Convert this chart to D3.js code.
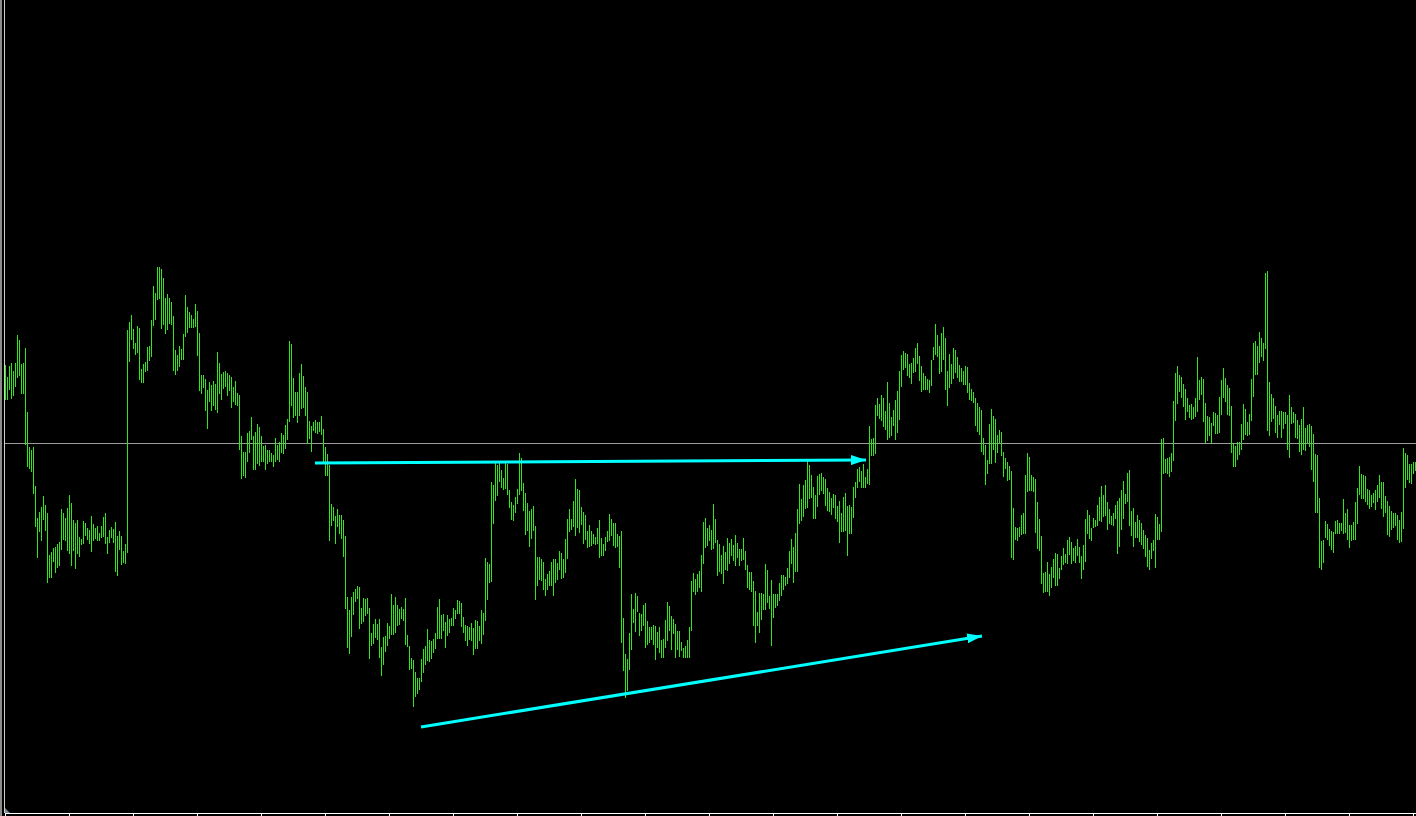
<!DOCTYPE html>
<html>
<head>
<meta charset="utf-8">
<script src="https://cdn.jsdelivr.net/npm/d3@7"></script>
<style>
  html, body { margin: 0; padding: 0; background: #000; overflow: hidden; }
  svg { display: block; }
</style>
</head>
<body>
<div id="chart"></div>
<script>
// bar highs / lows, oldest bar first
const highs = [
1.1635,1.1623,1.1634,1.1637,1.1629,1.1637,1.1665,1.1660,1.1636,1.1637,
1.1652,1.1588,1.1553,1.1550,1.1553,1.1514,1.1482,1.1488,1.1493,1.1504,
1.1495,1.1487,1.1445,1.1448,1.1452,1.1453,1.1456,1.1458,1.1491,1.1487,
1.1482,1.1492,1.1505,1.1497,1.1480,1.1477,1.1480,1.1463,1.1461,1.1479,
1.1477,1.1472,1.1470,1.1484,1.1476,1.1472,1.1474,1.1467,1.1474,1.1483,
1.1487,1.1463,1.1470,1.1473,1.1471,1.1478,1.1464,1.1469,1.1464,1.1449,
1.1456,
1.1670,1.1678,1.1685,1.1671,1.1657,1.1674,1.1672,1.1631,1.1636,1.1638,
1.1653,1.1654,1.1680,1.1714,1.1707,1.1733,1.1733,1.1731,1.1722,1.1702,
1.1706,1.1702,1.1698,1.1684,1.1650,1.1645,1.1654,1.1651,1.1666,1.1705,
1.1693,1.1688,1.1685,1.1681,1.1696,1.1689,1.1667,1.1625,1.1625,1.1621,
1.1610,1.1618,1.1615,1.1619,1.1616,1.1648,1.1637,1.1626,1.1628,1.1629,
1.1627,1.1625,1.1623,1.1613,1.1619,1.1607,1.1605,1.1564,1.1548,1.1548,
1.1567,1.1569,1.1583,1.1564,1.1568,1.1576,1.1573,1.1564,1.1554,1.1555,
1.1550,1.1550,1.1547,1.1545,1.1562,1.1555,1.1558,1.1567,1.1565,1.1575,
1.1581,1.1659,1.1656,1.1622,1.1608,1.1608,1.1627,1.1636,1.1624,1.1613,
1.1608,1.1579,1.1574,1.1578,1.1580,1.1578,1.1578,1.1584,
1.1571,1.1553,1.1546,1.1535,1.1496,1.1493,1.1484,1.1491,1.1485,1.1485,
1.1480,1.1464,1.1403,1.1390,1.1403,1.1408,1.1411,1.1414,1.1413,1.1392,
1.1402,1.1401,1.1402,1.1392,1.1367,1.1376,1.1381,1.1376,1.1381,1.1353,
1.1363,1.1364,1.1377,1.1374,1.1406,1.1395,1.1403,1.1395,1.1391,1.1393,
1.1391,1.1402,1.1365,1.1354,1.1342,1.1340,1.1328,1.1322,1.1322,1.1341,
1.1351,1.1354,1.1371,1.1360,1.1359,1.1361,1.1367,1.1393,1.1401,1.1385,
1.1386,1.1378,1.1385,1.1381,1.1382,1.1392,1.1390,1.1400,1.1399,1.1397,
1.1383,1.1375,1.1374,1.1373,1.1377,1.1372,1.1380,1.1379,1.1374,1.1390,
1.1387,
1.1442,1.1438,1.1436,1.1518,1.1515,1.1539,1.1535,1.1538,1.1530,1.1522,
1.1537,1.1536,1.1510,1.1498,1.1495,1.1503,1.1511,1.1547,1.1542,1.1517,
1.1507,1.1497,1.1489,1.1491,1.1494,1.1474,1.1443,1.1443,1.1441,1.1438,
1.1421,1.1426,1.1429,1.1438,1.1441,1.1441,1.1437,1.1449,1.1447,1.1441,
1.1461,1.1481,1.1491,1.1481,1.1499,1.1521,1.1511,1.1510,1.1493,1.1488,
1.1485,1.1469,1.1475,1.1469,1.1466,1.1463,1.1472,1.1480,
1.1462,1.1456,1.1463,1.1469,1.1486,1.1481,1.1477,1.1477,1.1466,1.1464,
1.1469,1.1382,1.1346,1.1341,1.1367,1.1406,1.1391,1.1407,1.1404,1.1387,
1.1386,1.1395,1.1397,1.1379,1.1373,1.1373,1.1375,1.1374,1.1368,1.1373,
1.1360,1.1361,1.1380,1.1398,1.1394,1.1384,1.1381,1.1376,1.1369,1.1369,
1.1358,1.1352,1.1354,1.1360,1.1373,1.1419,1.1427,1.1421,1.1426,1.1429,
1.1445,1.1478,1.1482,1.1472,1.1475,1.1470,1.1496,1.1481,1.1460,1.1456,
1.1445,1.1454,1.1448,1.1462,1.1457,1.1461,1.1455,1.1465,1.1457,1.1451,
1.1451,1.1462,1.1449,1.1435,1.1428,1.1428,1.1419,1.1409,1.1388,1.1407,
1.1407,1.1406,1.1436,1.1430,1.1404,1.1420,1.1406,1.1406,1.1406,1.1417,
1.1425,1.1425,1.1423,1.1432,
1.1449,1.1461,1.1453,1.1467,1.1491,1.1516,1.1501,1.1515,1.1520,1.1541,
1.1535,1.1525,1.1513,1.1505,1.1524,1.1526,1.1527,1.1523,1.1521,1.1512,
1.1508,1.1502,1.1506,1.1505,1.1494,1.1499,1.1487,1.1503,1.1507,1.1494,
1.1495,1.1493,1.1513,1.1518,1.1531,1.1533,1.1529,1.1536,1.1523,1.1531,
1.1574,1.1561,1.1562,1.1595,1.1602,1.1596,1.1605,1.1602,1.1589,1.1618,
1.1597,1.1583,1.1590,1.1600,1.1609,1.1629,1.1645,1.1649,1.1647,1.1646,
1.1636,1.1637,1.1642,1.1652,1.1657,1.1644,1.1634,1.1627,1.1624,1.1621,
1.1620,1.1640,1.1653,1.1676,1.1665,1.1654,1.1667,1.1673,1.1662,1.1629,
1.1646,1.1636,1.1652,1.1650,1.1643,1.1635,1.1632,1.1629,1.1634,1.1633,
1.1617,1.1611,1.1608,1.1602,1.1597,1.1593,1.1590,1.1562,1.1555,1.1540,
1.1576,1.1591,1.1584,1.1581,1.1565,1.1570,
1.1568,1.1548,1.1542,1.1538,1.1534,1.1529,1.1492,1.1473,1.1472,1.1473,
1.1485,1.1487,1.1525,1.1547,1.1543,1.1525,1.1523,1.1521,1.1498,1.1481,
1.1464,1.1427,1.1428,1.1438,1.1426,1.1433,1.1441,1.1447,1.1446,1.1432,
1.1444,1.1452,1.1446,1.1460,1.1463,1.1458,1.1452,1.1454,1.1461,1.1453,
1.1444,1.1455,1.1481,1.1490,1.1485,1.1472,1.1482,1.1480,1.1495,1.1503,
1.1514,1.1505,
1.1515,1.1498,1.1491,1.1484,1.1487,1.1495,1.1499,1.1502,1.1510,1.1519,
1.1506,1.1527,1.1530,1.1489,1.1492,1.1478,1.1485,1.1480,1.1477,1.1470,
1.1465,1.1462,1.1450,
1.1457,1.1460,1.1486,1.1483,1.1476,1.1561,1.1562,1.1541,1.1542,1.1543,
1.1547,1.1599,1.1627,1.1634,1.1625,1.1623,1.1616,1.1611,1.1602,1.1595,
1.1596,1.1593,1.1602,1.1643,1.1620,1.1623,1.1621,1.1597,1.1584,1.1583,
1.1577,1.1588,1.1587,1.1585,1.1603,1.1620,1.1632,1.1622,1.1615,1.1612,
1.1594,1.1557,1.1554,1.1558,1.1558,1.1576,1.1596,1.1591,1.1578,1.1586,
1.1621,1.1657,1.1659,1.1654,1.1668,1.1662,1.1657,1.1727,1.1729,1.1618,
1.1606,1.1602,1.1594,1.1585,1.1589,1.1589,1.1588,1.1588,1.1585,1.1605,
1.1593,1.1588,1.1586,1.1580,1.1575,1.1581,1.1593,1.1572,1.1575,1.1576,
1.1574,1.1566,1.1546,1.1545,1.1502,1.1459,1.1460,1.1479,1.1476,1.1471,
1.1469,1.1468,1.1479,1.1480,1.1477,1.1477,1.1501,1.1487,1.1491,1.1475,
1.1475,1.1478,1.1498,1.1512,1.1534,1.1526,1.1525,1.1524,1.1511,1.1510,
1.1505,1.1507,1.1510,1.1515,1.1525,1.1518,1.1518,1.1504,1.1499,1.1494,
1.1489,1.1487,1.1487,1.1485,1.1480,1.1488,1.1552,1.1547,1.1545,1.1536,
1.1536,1.1538,1.1538
];

const lows = [
1.1601,1.1601,1.1611,1.1602,1.1605,1.1614,1.1623,1.1625,1.1607,1.1607,
1.1556,1.1534,1.1532,1.1529,1.1507,1.1474,1.1443,1.1469,1.1460,1.1481,
1.1470,1.1418,1.1423,1.1423,1.1439,1.1428,1.1433,1.1435,1.1451,1.1461,
1.1460,1.1450,1.1447,1.1435,1.1450,1.1432,1.1447,1.1444,1.1456,1.1457,
1.1465,1.1461,1.1457,1.1449,1.1460,1.1462,1.1460,1.1460,1.1463,1.1464,
1.1457,1.1447,1.1458,1.1463,1.1458,1.1429,1.1425,1.1451,1.1436,1.1438,
1.1437,
1.1448,1.1639,1.1661,1.1652,1.1646,1.1648,1.1621,1.1618,1.1618,1.1629,
1.1630,1.1640,1.1644,1.1675,1.1681,1.1701,1.1702,1.1672,1.1676,1.1667,
1.1671,1.1677,1.1676,1.1630,1.1626,1.1630,1.1634,1.1641,1.1641,1.1664,
1.1668,1.1673,1.1673,1.1673,1.1674,1.1645,1.1610,1.1607,1.1613,1.1590,
1.1572,1.1599,1.1590,1.1595,1.1591,1.1588,1.1607,1.1601,1.1612,1.1614,
1.1605,1.1610,1.1593,1.1599,1.1596,1.1595,1.1551,1.1522,1.1525,1.1523,
1.1539,1.1548,1.1561,1.1531,1.1531,1.1537,1.1535,1.1539,1.1539,1.1531,
1.1537,1.1539,1.1539,1.1534,1.1539,1.1541,1.1539,1.1548,1.1547,1.1552,
1.1561,1.1579,1.1595,1.1583,1.1585,1.1578,1.1585,1.1592,1.1593,1.1585,
1.1557,1.1562,1.1549,1.1570,1.1568,1.1567,1.1569,1.1566,
1.1537,1.1525,1.1525,1.1460,1.1475,1.1480,1.1457,1.1474,1.1467,1.1462,
1.1444,1.1392,1.1353,1.1347,1.1364,1.1386,1.1399,1.1402,1.1372,1.1377,
1.1379,1.1385,1.1387,1.1342,1.1355,1.1357,1.1363,1.1361,1.1343,1.1325,
1.1336,1.1349,1.1355,1.1362,1.1366,1.1366,1.1368,1.1375,1.1376,1.1382,
1.1380,1.1356,1.1354,1.1331,1.1332,1.1294,1.1304,1.1307,1.1311,1.1319,
1.1328,1.1336,1.1340,1.1339,1.1342,1.1348,1.1352,1.1362,1.1362,1.1362,
1.1370,1.1353,1.1365,1.1368,1.1375,1.1375,1.1382,1.1387,1.1387,1.1374,
1.1368,1.1360,1.1355,1.1361,1.1360,1.1346,1.1352,1.1352,1.1360,1.1357,
1.1366,
1.1380,1.1401,1.1418,1.1419,1.1477,1.1500,1.1505,1.1519,1.1513,1.1511,
1.1512,1.1506,1.1493,1.1481,1.1480,1.1488,1.1497,1.1506,1.1510,1.1490,
1.1466,1.1470,1.1454,1.1462,1.1470,1.1401,1.1415,1.1421,1.1420,1.1411,
1.1405,1.1411,1.1415,1.1415,1.1405,1.1418,1.1421,1.1431,1.1422,1.1423,
1.1428,1.1442,1.1469,1.1471,1.1474,1.1465,1.1473,1.1468,1.1476,1.1457,
1.1461,1.1453,1.1454,1.1455,1.1457,1.1456,1.1457,1.1443,
1.1445,1.1445,1.1450,1.1459,1.1460,1.1465,1.1455,1.1453,1.1454,1.1433,
1.1358,1.1330,1.1303,1.1310,1.1331,1.1351,1.1378,1.1369,1.1389,1.1365,
1.1370,1.1375,1.1353,1.1356,1.1358,1.1361,1.1356,1.1341,1.1353,1.1348,
1.1343,1.1343,1.1353,1.1360,1.1370,1.1351,1.1367,1.1343,1.1351,1.1344,
1.1350,1.1343,1.1343,1.1343,1.1343,1.1370,1.1409,1.1406,1.1409,1.1413,
1.1409,1.1437,1.1453,1.1455,1.1460,1.1451,1.1452,1.1458,1.1425,1.1429,
1.1427,1.1417,1.1431,1.1430,1.1437,1.1445,1.1440,1.1435,1.1443,1.1435,
1.1440,1.1441,1.1431,1.1413,1.1411,1.1409,1.1375,1.1358,1.1375,1.1368,
1.1381,1.1391,1.1391,1.1398,1.1392,1.1355,1.1383,1.1393,1.1395,1.1400,
1.1405,1.1411,1.1415,1.1417,
1.1423,1.1437,1.1418,1.1429,1.1429,1.1477,1.1480,1.1484,1.1492,1.1493,
1.1502,1.1503,1.1482,1.1482,1.1494,1.1506,1.1510,1.1507,1.1495,1.1490,
1.1489,1.1486,1.1493,1.1482,1.1479,1.1458,1.1469,1.1469,1.1470,1.1445,
1.1467,1.1467,1.1483,1.1503,1.1513,1.1519,1.1513,1.1513,1.1513,1.1517,
1.1516,1.1545,1.1545,1.1547,1.1585,1.1582,1.1580,1.1574,1.1571,1.1561,
1.1563,1.1565,1.1575,1.1561,1.1568,1.1581,1.1614,1.1631,1.1633,1.1625,
1.1623,1.1617,1.1628,1.1629,1.1637,1.1620,1.1609,1.1611,1.1611,1.1611,
1.1608,1.1615,1.1641,1.1646,1.1644,1.1627,1.1629,1.1641,1.1611,1.1595,
1.1613,1.1617,1.1622,1.1628,1.1623,1.1619,1.1619,1.1616,1.1616,1.1608,
1.1601,1.1600,1.1598,1.1575,1.1569,1.1566,1.1549,1.1546,1.1516,1.1527,
1.1537,1.1537,1.1551,1.1538,1.1548,1.1557,
1.1545,1.1524,1.1532,1.1520,1.1521,1.1443,1.1441,1.1461,1.1460,1.1464,
1.1466,1.1467,1.1467,1.1509,1.1510,1.1510,1.1509,1.1468,1.1452,1.1450,
1.1417,1.1408,1.1409,1.1409,1.1405,1.1413,1.1423,1.1415,1.1415,1.1422,
1.1431,1.1436,1.1438,1.1437,1.1446,1.1437,1.1440,1.1438,1.1445,1.1438,
1.1422,1.1431,1.1439,1.1467,1.1462,1.1460,1.1473,1.1474,1.1475,1.1480,
1.1479,1.1484,
1.1485,1.1471,1.1477,1.1476,1.1475,1.1482,1.1447,1.1454,1.1471,1.1482,
1.1497,1.1499,1.1475,1.1465,1.1454,1.1463,1.1463,1.1459,1.1456,1.1452,
1.1444,1.1434,1.1431,
1.1442,1.1450,1.1433,1.1461,1.1461,1.1469,1.1527,1.1528,1.1527,1.1524,
1.1529,1.1540,1.1580,1.1597,1.1609,1.1603,1.1594,1.1581,1.1589,1.1583,
1.1581,1.1582,1.1584,1.1589,1.1601,1.1606,1.1579,1.1558,1.1560,1.1565,
1.1557,1.1575,1.1567,1.1567,1.1568,1.1586,1.1603,1.1599,1.1586,1.1585,
1.1548,1.1534,1.1534,1.1541,1.1546,1.1551,1.1561,1.1566,1.1565,1.1566,
1.1580,1.1604,1.1626,1.1626,1.1638,1.1644,1.1640,1.1652,1.1570,1.1565,
1.1579,1.1582,1.1568,1.1563,1.1576,1.1563,1.1572,1.1577,1.1551,1.1543,
1.1577,1.1578,1.1563,1.1562,1.1549,1.1546,1.1551,1.1550,1.1558,1.1554,
1.1531,1.1519,1.1488,1.1488,1.1433,1.1431,1.1438,1.1463,1.1461,1.1455,
1.1451,1.1448,1.1467,1.1467,1.1467,1.1470,1.1467,1.1468,1.1461,1.1453,
1.1460,1.1461,1.1461,1.1477,1.1506,1.1502,1.1502,1.1499,1.1496,1.1492,
1.1494,1.1498,1.1491,1.1499,1.1503,1.1492,1.1484,1.1488,1.1466,1.1464,
1.1471,1.1473,1.1475,1.1461,1.1458,1.1459,1.1472,1.1513,1.1521,1.1518,
1.1517,1.1527,1.1530
];

// horizontal level and the two drawn arrows: [bar index, price]
const levelPrice = 1.1557;
const arrowLines = [
  { from: [155, 1.1537], to: [430.5, 1.1540] },
  { from: [208, 1.1273], to: [488.5, 1.1364] }
];
const priceDomain = [1.1190, 1.2000];
const barSlots = 706;      // visible bar slots on screen
const tickStep = 32;       // bars between time-scale ticks

const width = 1416, height = 816;
const axisY = 813;

const bars = highs.map((h, i) => ({ index: i, high: h, low: lows[i] }));

const xScale = d3.scaleLinear().domain([0, barSlots - 1]).range([5, 1415]);
const yScale = d3.scaleLinear().domain(priceDomain).range([810, 0]);

const svg = d3.select("#chart")
  .append("svg")
  .attr("width", width)
  .attr("height", height)
  .style("background", "#000");

svg.append("defs")
  .append("marker")
  .attr("id", "arrowHead")
  .attr("markerUnits", "userSpaceOnUse")
  .attr("markerWidth", 16)
  .attr("markerHeight", 10)
  .attr("refX", 15)
  .attr("refY", 5)
  .attr("orient", "auto")
  .append("path")
  .attr("d", "M0,0 L15,5 L0,10 Z")
  .attr("fill", "#00ffff");

// left frame
svg.append("rect")
  .attr("x", 0).attr("y", 0)
  .attr("width", 2).attr("height", height)
  .attr("fill", "#8c8c8c");
svg.append("line")
  .attr("x1", 4.5).attr("x2", 4.5)
  .attr("y1", 0).attr("y2", axisY)
  .attr("stroke", "#cfcfcf");

// level line
const levelY = Math.round(yScale(levelPrice)) + 0.5;
svg.append("line")
  .attr("x1", xScale(0)).attr("x2", width)
  .attr("y1", levelY).attr("y2", levelY)
  .attr("stroke", "#9c9c9c")
  .attr("stroke-width", 1);

// price bars
svg.append("g")
  .attr("shape-rendering", "crispEdges")
  .selectAll("line")
  .data(bars)
  .enter()
  .append("line")
  .attr("x1", d => Math.round(xScale(d.index)) + 0.5)
  .attr("x2", d => Math.round(xScale(d.index)) + 0.5)
  .attr("y1", d => Math.round(yScale(d.high)))
  .attr("y2", d => Math.round(yScale(d.low)) + 1)
  .attr("stroke", "#32e61e")
  .attr("stroke-width", 1);

// arrows
svg.append("g")
  .selectAll("line")
  .data(arrowLines)
  .enter()
  .append("line")
  .attr("x1", d => xScale(d.from[0]))
  .attr("y1", d => yScale(d.from[1]))
  .attr("x2", d => xScale(d.to[0]))
  .attr("y2", d => yScale(d.to[1]))
  .attr("stroke", "#00ffff")
  .attr("stroke-width", 3)
  .attr("marker-end", "url(#arrowHead)");

// time scale
const xAxis = svg.append("g")
  .attr("transform", `translate(0, ${axisY + 0.5})`)
  .call(d3.axisBottom(xScale)
    .tickValues(d3.range(0, barSlots, tickStep))
    .tickSize(3)
    .tickSizeOuter(0)
    .tickFormat(""));
xAxis.select(".domain").attr("stroke", "#ffffff").attr("d", `M${xScale(0)},0H${width}`);
xAxis.selectAll(".tick line").attr("stroke", "#ffffff");

// chart shift marker
const sx = xScale(0);
svg.append("path")
  .attr("d", `M${sx},${axisY - 5}L${sx},${axisY}L${sx + 5},${axisY}Z`)
  .attr("fill", "#7a8a9a");
</script>
</body>
</html>
